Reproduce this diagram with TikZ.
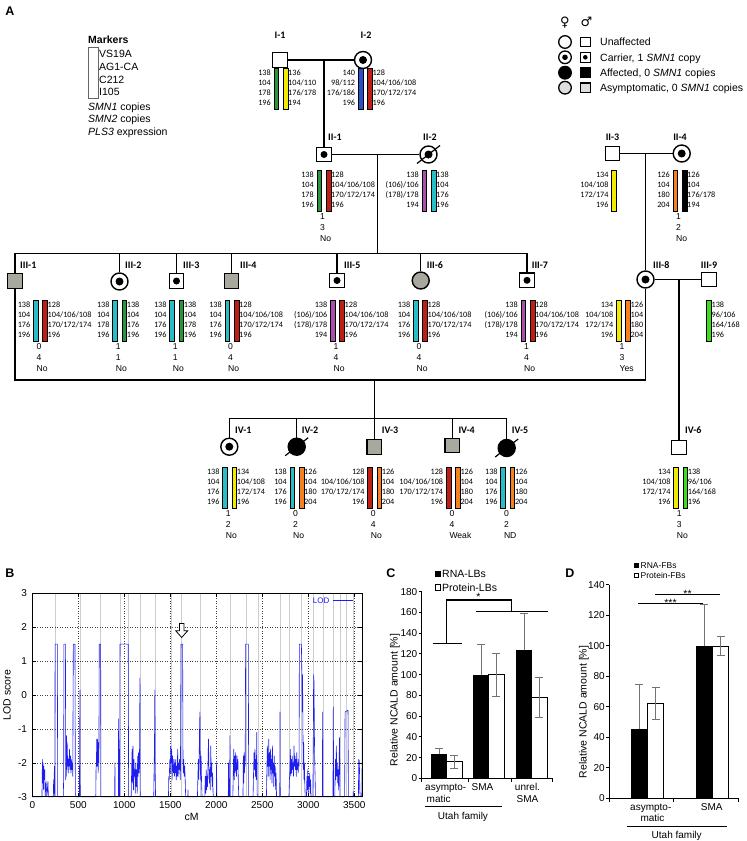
\documentclass[tikz,border=0pt]{standalone}
\usepackage{fontspec}
\setmainfont{Liberation Sans}
\newfontfamily\calfont{Carlito}
\newfontfamily\djv{DejaVu Sans}
\definecolor{hgreen}{RGB}{40,150,60}
\definecolor{hyellow}{RGB}{240,235,0}
\definecolor{hblue}{RGB}{40,80,200}
\definecolor{hred}{RGB}{190,30,20}
\definecolor{hpurple}{RGB}{170,80,170}
\definecolor{hcyan}{RGB}{40,190,200}
\definecolor{horange}{RGB}{245,130,30}
\definecolor{hlime}{RGB}{60,220,30}
\definecolor{pgrey}{RGB}{168,168,158}
\definecolor{lgrey}{RGB}{222,222,222}
\definecolor{lodblue}{RGB}{30,30,240}
\definecolor{chrgrey}{RGB}{205,205,205}
\tikzset{
 ped/.style={line width=1.2pt},
 sym/.style={draw, line width=1.4pt, inner sep=0pt, fill=white},
 msq/.style={sym, rectangle, minimum size=14.5pt},
 fci/.style={sym, circle, minimum size=17pt},
 carsq/.style={path picture={\fill[black] (path picture bounding box.center) circle (3.5pt);}},
 carci/.style={path picture={\fill[black] (path picture bounding box.center) circle (4pt);}},
 hbar/.style={draw, line width=0.8pt},
 num/.style={font=\calfont\fontsize{8.2}{10}\selectfont, inner sep=0pt, text height=5.2pt, text depth=0pt},
 bnum/.style={font=\fontsize{8.6}{10}\selectfont, inner sep=0pt, text height=6.2pt, text depth=0pt, anchor=west},
 gen/.style={font=\calfont\bfseries\fontsize{10}{12}\selectfont, inner sep=0pt, text height=6.4pt, text depth=0pt},
 leg/.style={font=\fontsize{10.5}{12}\selectfont, inner sep=0pt, anchor=west, text height=7.5pt, text depth=0pt},
 lci/.style={draw, circle, line width=1.3pt, minimum size=12.6pt, inner sep=0pt, fill=white},
 lsq/.style={draw, rectangle, line width=1.1pt, minimum size=9.5pt, inner sep=0pt, fill=white},
 lcarci/.style={path picture={\fill[black] (path picture bounding box.center) circle (2.8pt);}},
 lcarsq/.style={path picture={\fill[black] (path picture bounding box.center) circle (2.3pt);}},
 panel/.style={font=\bfseries\fontsize{12.5}{14}\selectfont, inner sep=0pt},
 tick/.style={font=\fontsize{10}{12}\selectfont, inner sep=0pt, text height=7.2pt, text depth=0pt},
 axl/.style={font=\fontsize{10.5}{12}\selectfont, inner sep=0pt},
 errb/.style={black!55, line width=0.6pt},
 sig/.style={line width=1.2pt},
}
\newcommand{\lbarx}[3]{\draw[hbar,fill=#3] ({#1-7},#2) rectangle ({#1-2.3},{#2+41});}
\newcommand{\rbarx}[3]{\draw[hbar,fill=#3] ({#1+2.3},#2) rectangle ({#1+7},{#2+41});}
\newcommand{\lnums}[7]{%
\node[num,anchor=east] (#1-l1) at ({#2-10},{#3+5}) {#4};
\node[num,anchor=east] (#1-l2) at ({#2-10},{#3+15}) {#5};
\node[num,anchor=east] (#1-l3) at ({#2-10},{#3+25}) {#6};
\node[num,anchor=east] (#1-l4) at ({#2-10},{#3+35}) {#7};}
\newcommand{\rnums}[7]{%
\node[num,anchor=west] (#1-r1) at ({#2+7},{#3+5}) {#4};
\node[num,anchor=west] (#1-r2) at ({#2+7},{#3+15}) {#5};
\node[num,anchor=west] (#1-r3) at ({#2+7},{#3+25}) {#6};
\node[num,anchor=west] (#1-r4) at ({#2+7},{#3+35}) {#7};}
\newcommand{\bnums}[6]{%
\node[bnum] (#1-b1) at ({#2-4},{#3+46.5}) {#4};
\node[bnum] (#1-b2) at ({#2-4},{#3+57.3}) {#5};
\node[bnum] (#1-b3) at ({#2-4},{#3+68}) {#6};}
\newcommand{\cy}[1]{778.3-1.037*(#1)}
\newcommand{\dy}[1]{798.3-1.525*(#1)}
\begin{document}
\begin{tikzpicture}[x=1pt,y=-1pt]
\useasboundingbox (0,0) rectangle (747,841);
\fill[white] (0,0) rectangle (747,841);

% ---------------- Panel A ----------------
\node[panel] (pA) at (10,11) {A};

% markers legend
\node[font=\bfseries\fontsize{10.5}{12}\selectfont, inner sep=0pt, anchor=west, text height=7.5pt, text depth=0pt] (mk) at (88,40) {Markers};
\draw[line width=0.5pt, draw=black!60] (88.3,47.7) rectangle (98.3,98.3);
\node[leg] (mk1) at (99,54) {VS19A};
\node[leg] (mk2) at (99,66.7) {AG1-CA};
\node[leg] (mk3) at (99,79.3) {C212};
\node[leg] (mk4) at (99,92) {I105};
\node[leg] (mk5) at (88,106.7) {\textit{SMN1} copies};
\node[leg] (mk6) at (88,119.2) {\textit{SMN2} copies};
\node[leg] (mk7) at (88,131.7) {\textit{PLS3} expression};

% symbol legend
\node[font=\djv\fontsize{13}{14}\selectfont, inner sep=0pt] (fem) at (565,23) {♀};
\node[font=\djv\fontsize{13}{14}\selectfont, inner sep=0pt] (mal) at (586.5,22) {♂};
\node[lci] (lc1) at (565,42) {};
\node[lsq] (ls1) at (585.3,42) {};
\node[leg] (lt1) at (600,42) {Unaffected};
\node[lci,lcarci] (lc2) at (565,57.3) {};
\node[lsq,lcarsq] (ls2) at (585.3,57.3) {};
\node[leg] (lt2) at (600,57.3) {Carrier, 1 \textit{SMN1} copy};
\node[lci,fill=black] (lc3) at (565,72.7) {};
\node[lsq,fill=black] (ls3) at (585.3,72.7) {};
\node[leg] (lt3) at (600,72.7) {Affected, 0 \textit{SMN1} copies};
\node[lci,fill=lgrey] (lc4) at (565,87.7) {};
\node[lsq,fill=lgrey] (ls4) at (585.3,87.7) {};
\node[leg] (lt4) at (600,87.7) {Asymptomatic, 0 \textit{SMN1} copies};

% ---- Generation I
\node[msq] (I1) at (280,60) {};
\node[fci,carci] (I2) at (363,60) {};
\node[gen] (I1t) at (280,35) {I-1};
\node[gen] (I2t) at (366,35) {I-2};
\draw[ped] (I1.east) -- (I2.west);
\coordinate (mI) at (324,60);

% ---- Generation II
\node[msq,carsq] (II1) at (324,154.5) {};
\node[fci,carci] (II2) at (428.5,154.5) {};
\draw[ped] ([shift={(-11.5,9)}]II2.center) -- ([shift={(11.5,-9)}]II2.center);
\node[gen,anchor=west] (II1t) at (328,137.3) {II-1};
\node[gen,anchor=west] (II2t) at (423,137.3) {II-2};
\draw[ped] (mI) -- (II1.north);
\draw[ped] (II1.east) -- (II2.west);
\coordinate (mII) at (377.7,154.5);
\coordinate (sIII) at (377.7,253.3);
\draw[ped] (mII) -- (sIII);

\node[msq] (II3) at (612.5,153.5) {};
\node[fci,carci] (II4) at (681.7,153.5) {};
\node[gen] (II3t) at (612.5,137.3) {II-3};
\node[gen] (II4t) at (680,137.3) {II-4};
\draw[ped] (II3.east) -- (II4.west);
\coordinate (mII2) at (645.5,153.5);

% ---- Generation III
\node[msq,fill=pgrey] (III1) at (15,281) {};
\node[fci,carci] (III2) at (119.5,281.5) {};
\node[msq,carsq] (III3) at (176.5,281) {};
\node[msq,fill=pgrey] (III4) at (231.5,281) {};
\node[msq,carsq] (III5) at (337,280.5) {};
\node[fci,fill=pgrey] (III6) at (420.7,280.5) {};
\node[msq,carsq] (III7) at (527,280.3) {};
\node[fci,carci] (III8) at (645.5,279.5) {};
\node[msq] (III9) at (709,279.5) {};
\node[gen,anchor=west] (III1t) at (20,265) {III-1};
\node[gen,anchor=west] (III2t) at (125,265) {III-2};
\node[gen,anchor=west] (III3t) at (183,265) {III-3};
\node[gen,anchor=west] (III4t) at (240,265) {III-4};
\node[gen,anchor=west] (III5t) at (344,265) {III-5};
\node[gen,anchor=west] (III6t) at (426.7,265) {III-6};
\node[gen,anchor=west] (III7t) at (531.7,265) {III-7};
\node[gen,anchor=west] (III8t) at (653,265) {III-8};
\node[gen] (III9t) at (709,265) {III-9};
\draw[ped] (III1.north |- sIII) -- (III7.north |- sIII);
\foreach \n in {III1,III2,III3,III4,III5,III6,III7} \draw[ped] (\n.north |- sIII) -- (\n.north);
\draw[ped] (mII2) -- (III8.north);
\draw[ped] (III8.east) -- (III9.west);
\coordinate (mIII) at (679,279.5);
\coordinate (b1) at (15,380);
\coordinate (b2) at (645.5,380);
\draw[ped] (III1.south) -- (b1) -- (b2) -- (III8.south);
\coordinate (dIV) at (374.3,380);
\coordinate (sIV) at (374.3,418.3);

% ---- Generation IV
\node[fci,carci] (IV1) at (229.3,446.7) {};
\node[fci,fill=black] (IV2) at (296.7,446.7) {};
\node[msq,fill=pgrey] (IV3) at (374.3,447) {};
\node[msq,fill=pgrey] (IV4) at (452.2,445.5) {};
\node[fci,fill=black] (IV5) at (506.7,448) {};
\node[msq] (IV6) at (679,447.5) {};
\draw[ped] ([shift={(-11.5,9)}]IV2.center) -- ([shift={(11.5,-9)}]IV2.center);
\draw[ped] ([shift={(-11.5,9)}]IV5.center) -- ([shift={(11.5,-9)}]IV5.center);
\node[gen,anchor=west] (IV1t) at (235,430.7) {IV-1};
\node[gen,anchor=west] (IV2t) at (301.7,430.7) {IV-2};
\node[gen,anchor=west] (IV3t) at (381.7,430.7) {IV-3};
\node[gen,anchor=west] (IV4t) at (458.3,430.7) {IV-4};
\node[gen,anchor=west] (IV5t) at (511.7,430.7) {IV-5};
\node[gen,anchor=west] (IV6t) at (685,430.7) {IV-6};
\draw[ped] (dIV) -- (IV3.north);
\draw[ped] (IV1.north |- sIV) -- (IV5.north |- sIV);
\foreach \n in {IV1,IV2,IV4,IV5} \draw[ped] (\n.north |- sIV) -- (\n.north);
\draw[ped] (mIII) -- (IV6.north);

% ---- haplotypes
% I-1
\lbarx{281}{68}{hgreen}\rbarx{281}{68}{hyellow}
\lnums{I1}{281}{68}{138}{104}{178}{196}
\rnums{I1}{281}{68}{136}{104/110}{176/178}{194}
% I-2
\lbarx{365.3}{68}{hblue}\rbarx{365.3}{68}{hred}
\lnums{I2}{365.3}{68}{140}{98/112}{176/186}{196}
\rnums{I2}{365.3}{68}{128}{104/106/108}{170/172/174}{196}
% II-1
\lbarx{324}{170}{hgreen}\rbarx{324}{170}{hred}
\lnums{II1}{324}{170}{138}{104}{178}{196}
\rnums{II1}{324}{170}{128}{104/106/108}{170/172/174}{196}
\bnums{II1}{324}{170}{1}{3}{No}
% II-2
\lbarx{429}{170}{hpurple}\rbarx{429}{170}{hcyan}
\lnums{II2}{429}{170}{138}{(106)/106}{(178)/178}{194}
\rnums{II2}{429}{170}{138}{104}{176}{196}
% II-3
\lbarx{618.7}{170}{hyellow}
\lnums{II3}{618.7}{170}{134}{104/108}{172/174}{196}
% II-4
\lbarx{680}{170}{horange}\rbarx{680}{170}{black}
\lnums{II4}{680}{170}{126}{104}{180}{204}
\rnums{II4}{680}{170}{126}{104}{176/178}{194}
\bnums{II4}{680}{170}{1}{2}{No}
% III-1
\lbarx{40.5}{300}{hcyan}\rbarx{40.5}{300}{hred}
\lnums{III1}{40.5}{300}{138}{104}{176}{196}
\rnums{III1}{40.5}{300}{128}{104/106/108}{170/172/174}{196}
\bnums{III1}{40.5}{300}{0}{4}{No}
% III-2
\lbarx{119.7}{300}{hcyan}\rbarx{119.7}{300}{hgreen}
\lnums{III2}{119.7}{300}{138}{104}{178}{196}
\rnums{III2}{119.7}{300}{138}{104}{176}{196}
\bnums{III2}{119.7}{300}{1}{1}{No}
% III-3
\lbarx{176.7}{300}{hcyan}\rbarx{176.7}{300}{hgreen}
\lnums{III3}{176.7}{300}{138}{104}{176}{196}
\rnums{III3}{176.7}{300}{138}{104}{178}{196}
\bnums{III3}{176.7}{300}{1}{1}{No}
% III-4
\lbarx{232}{300}{hcyan}\rbarx{232}{300}{hred}
\lnums{III4}{232}{300}{138}{104}{176}{196}
\rnums{III4}{232}{300}{128}{104/106/108}{170/172/174}{196}
\bnums{III4}{232}{300}{0}{4}{No}
% III-5
\lbarx{337.5}{300}{hpurple}\rbarx{337.5}{300}{hred}
\lnums{III5}{337.5}{300}{138}{(106)/106}{(178)/178}{194}
\rnums{III5}{337.5}{300}{128}{104/106/108}{170/172/174}{196}
\bnums{III5}{337.5}{300}{1}{4}{No}
% III-6
\lbarx{420.5}{300}{hcyan}\rbarx{420.5}{300}{hred}
\lnums{III6}{420.5}{300}{138}{104}{176}{196}
\rnums{III6}{420.5}{300}{128}{104/106/108}{170/172/174}{196}
\bnums{III6}{420.5}{300}{0}{4}{No}
% III-7
\lbarx{528}{300}{hpurple}\rbarx{528}{300}{hred}
\lnums{III7}{528}{300}{138}{(106)/106}{(178)/178}{194}
\rnums{III7}{528}{300}{128}{104/106/108}{170/172/174}{196}
\bnums{III7}{528}{300}{1}{4}{No}
% III-8
\lbarx{623.5}{300}{hyellow}\rbarx{623.5}{300}{horange}
\lnums{III8}{623.5}{300}{134}{104/108}{172/174}{196}
\rnums{III8}{623.5}{300}{126}{104}{180}{204}
\bnums{III8}{623.5}{300}{1}{3}{Yes}
% III-9
\rbarx{704.4}{300}{hlime}
\rnums{III9}{704.4}{300}{138}{96/106}{164/168}{196}
% IV-1
\lbarx{229.7}{467}{hcyan}\rbarx{229.7}{467}{hyellow}
\lnums{IV1}{229.7}{467}{138}{104}{176}{196}
\rnums{IV1}{229.7}{467}{134}{104/108}{172/174}{196}
\bnums{IV1}{229.7}{467}{1}{2}{No}
% IV-2
\lbarx{297}{467}{hcyan}\rbarx{297}{467}{horange}
\lnums{IV2}{297}{467}{138}{104}{176}{196}
\rnums{IV2}{297}{467}{126}{104}{180}{204}
\bnums{IV2}{297}{467}{0}{2}{No}
% IV-3
\lbarx{374.7}{467}{hred}\rbarx{374.7}{467}{horange}
\lnums{IV3}{374.7}{467}{128}{104/106/108}{170/172/174}{196}
\rnums{IV3}{374.7}{467}{126}{104}{180}{204}
\bnums{IV3}{374.7}{467}{0}{4}{No}
% IV-4
\lbarx{453.3}{467}{hred}\rbarx{453.3}{467}{horange}
\lnums{IV4}{453.3}{467}{128}{104/106/108}{170/172/174}{196}
\rnums{IV4}{453.3}{467}{126}{104}{180}{204}
\bnums{IV4}{453.3}{467}{0}{4}{Weak}
% IV-5
\lbarx{507.8}{467}{hcyan}\rbarx{507.8}{467}{horange}
\lnums{IV5}{507.8}{467}{138}{104}{176}{196}
\rnums{IV5}{507.8}{467}{126}{104}{180}{204}
\bnums{IV5}{507.8}{467}{0}{2}{ND}
% IV-6
\lbarx{680.7}{467}{hyellow}\rbarx{680.7}{467}{hlime}
\lnums{IV6}{680.7}{467}{134}{104/108}{172/174}{196}
\rnums{IV6}{680.7}{467}{138}{96/106}{164/168}{196}
\bnums{IV6}{680.7}{467}{1}{3}{No}

% ---------------- Panel B ----------------
\node[panel] (pB) at (10,573.5) {B};
\begin{scope}[shift={(32.3pt,-695pt)}, x=0.092pt, y=33.9pt]
\foreach \c in {246,518,735,953,1043,1170,1333,1514,1623,1822,2149,2322,2456,2692,2793,2927,3054,3163,3272,3344,3417,3489}
  \draw[chrgrey, line width=0.5pt] (\c,-3) -- (\c,3);
\foreach \c in {500,1000,...,3500}
  \draw[black!75, line width=0.5pt, dash pattern=on 1pt off 1.5pt] (\c,-3) -- (\c,3);
\foreach \l in {-2,...,2}
  \draw[black!75, line width=0.5pt, dash pattern=on 1pt off 1.5pt] (0,\l) -- (3587,\l);
\draw[lodblue, line width=0.6pt, line join=round] plot coordinates {
(0,-2.4)(2,-3)
(105,-3)(110,-1.9)(113,-2.6)(117,-2.0)(121,-2.8)(125,-2.1)(130,-2.5)(135,-2.2)(140,-3)(150,-2.55)(158,-3)(170,-2.55)(175,-3)
(228,-3)(232,-2.5)(236,-2.9)(240,-2.1)(244,-3)(248,1.5)(272,1.5)(276,-3)
(337,-3)(341,-2.4)(344,1.5)(360,1.5)(363,-2.5)(366,-1.7)(369,-2.4)(372,-1.2)(375,-2.2)(379,-1.4)(383,-2.1)(387,-1.8)(391,-2.3)(395,-1.9)(400,-2.1)(405,-1.6)(410,-2.2)(415,-1.8)(420,-2.3)(425,-1.9)(430,-2.2)(435,-2.0)(440,-2.4)(446,1.5)(464,1.5)(468,-2.9)(475,-3)
(512,-3)(515,-1.3)(518,0.15)(521,-3)
(690,-3)(693,-2.2)(697,-2.0)(700,-1.3)(704,-2.1)(708,-1.3)(712,-1.7)(716,-2.3)(720,-1.4)(724,-2.0)(728,1.5)(743,1.5)(746,-3)
(895,-3)(898,-2.0)(901,-3)
(935,-3)(938,-0.7)(941,-3)
(950,-3)(953,1.5)(1043,1.5)(1047,-3)
(1075,-3)(1080,-2.2)(1085,-1.6)(1090,-2.6)(1095,-1.5)(1100,-2.8)(1105,-1.9)(1110,-2.4)(1115,-2.2)(1120,-2.9)(1125,-2.0)(1130,-2.7)(1135,-2.2)(1140,-2.9)(1145,-1.8)(1150,-2.4)(1155,-1.7)(1160,-2.3)(1165,-2.0)(1170,0.5)(1173,-3)
(1320,-3)(1324,-2.2)(1328,-1.5)(1332,0.15)(1336,-2.4)(1340,-3)
(1480,-3)(1484,-2.4)(1488,-2.5)(1495,-1.9)(1500,-2.3)(1505,-1.5)(1510,-2.0)(1515,-1.6)(1520,-2.5)(1525,-1.8)(1530,-2.2)(1535,-2.3)(1540,-1.9)(1545,-2.4)(1550,-2.0)(1555,-2.3)(1560,-1.9)(1565,-2.5)(1570,-2.1)(1575,-2.4)(1580,-1.6)(1585,-2.4)(1590,-2.0)(1595,-2.2)(1600,-1.9)(1605,-2.3)(1610,-2.5)(1616,1.5)(1634,1.5)(1638,-2.0)(1642,-2.3)(1647,-1.9)(1652,-2.4)(1657,-2.1)(1662,-2.5)(1667,-3)
(1690,-3)(1692,-2.8)(1694,-3)
(1795,-3)(1800,-2.4)(1805,-1.9)(1810,-2.5)(1815,-1.6)(1818,-1.0)(1822,-0.5)(1826,-2.0)(1830,-2.5)(1835,-1.8)(1840,-2.6)(1845,-3)
(1875,-3)(1880,-2.4)(1885,-2.9)(1890,-2.2)(1895,-2.8)(1900,-2.4)(1905,-2.7)(1910,-2.0)(1915,-1.3)(1920,-2.1)(1925,-2.6)(1930,-2.2)(1935,-2.8)(1940,-1.5)(1945,-2.4)(1950,-2.0)(1955,-2.7)(1960,-2.3)(1965,-2.9)(1970,-3)
(2000,-3)(2003,-2.0)(2006,-3)
(2130,-3)(2133,-2.0)(2137,-3)(2145,-3)(2148,-1.2)(2151,-3)
(2180,-3)(2185,-2.2)(2190,-1.6)(2195,-2.5)(2200,-1.8)(2205,-2.3)(2210,-1.7)(2215,-2.1)(2220,-2.4)(2225,-1.8)(2230,-2.2)(2235,-1.9)(2240,-2.6)(2244,-3)
(2290,-3)(2294,-1.8)(2298,-2.6)(2302,-1.7)(2306,-2.3)(2310,-1.8)(2314,-2.1)(2319,1.5)(2348,1.5)(2352,-3)
(2400,-3)(2405,-2.3)(2410,-1.7)(2415,-2.2)(2420,-1.6)(2425,-2.4)(2430,-1.9)(2435,-2.5)(2440,-1.1)(2444,-2.9)(2448,-3)
(2545,-3)(2550,-2.2)(2555,-1.5)(2560,-1.8)(2565,-2.4)(2570,-1.3)(2575,-2.1)(2580,-1.7)(2585,-2.5)(2590,-1.6)(2595,-2.2)(2600,-1.9)(2605,-2.6)(2610,-1.5)(2615,-2.3)(2620,-2.0)(2625,-2.7)(2630,-1.8)(2635,-2.4)(2640,-2.1)(2645,-2.8)(2650,-2.3)(2655,-3)
(2690,-3)(2692,-0.5)(2695,-3)
(2790,-3)(2795,-2.5)(2800,-2.2)(2805,-1.6)(2810,-2.4)(2815,-1.9)(2820,-2.3)(2825,-1.8)(2830,-2.2)(2835,-2.0)(2840,-2.4)(2845,-1.5)(2850,-2.1)(2855,-1.8)(2860,-2.2)(2865,-1.9)(2870,-2.4)(2875,-1.7)(2880,-2.2)(2885,-2.0)(2890,-2.3)(2895,-1.9)(2900,-2.1)(2903,1.5)(2925,1.5)(2930,0.65)(2934,-0.5)(2938,0.6)(2942,-1.2)(2946,-2.2)(2950,-1.4)(2954,-2.5)(2958,-2.0)(2962,-2.6)(2966,-3)
(2980,-3)(2985,-2.4)(2990,-2.8)(2995,-2.2)(3000,-2.9)(3005,-2.4)(3010,-2.7)(3015,-2.3)(3020,-2.9)(3025,-2.5)(3030,-3)
(3050,-3)(3054,-1.5)(3058,0.6)(3062,0.4)(3066,-1.0)(3070,-2.0)(3074,-2.4)(3078,-3)
(3153,-3)(3156,-0.5)(3159,-3)
(3268,-3)(3272,-0.35)(3276,-3)
(3288,-3)(3292,-2.3)(3296,-1.9)(3300,-2.5)(3305,-1.5)(3310,-2.4)(3315,-2.0)(3320,-2.6)(3325,-2.2)(3330,-2.8)(3335,-2.0)(3340,-1.25)(3344,-3)
(3395,-3)(3400,-0.5)(3432,-0.45)(3436,-3)
(3486,-3)(3489,-2.85)(3492,-3)
(3545,-3)(3548,-1.9)(3555,-1.95)(3560,-2.8)(3565,-3)(3580,-3)(3583,-2.8)(3587,-1.0)};
\draw[line width=0.6pt] (0,-3) rectangle (3587,3);
\foreach \c in {0,500,...,3500} {
  \draw[line width=0.6pt] (\c,-3) -- (\c,-2.88);
  \draw[line width=0.6pt] (\c,3) -- (\c,2.88);
  \node[tick,anchor=north] (bx\c) at (\c,-3.14) {\c};}
\foreach \l in {-3,...,3} {
  \draw[line width=0.6pt] (0,\l) -- (45,\l);
  \draw[line width=0.6pt] (3587,\l) -- (3542,\l);
  \node[tick,anchor=east] (by\l) at (-55,\l) {\l};}
\end{scope}
\node[axl,rotate=90] (blab) at (7,695) {LOD score};
\node[axl] (bcm) at (191.7,816.7) {cM};
\node[font=\fontsize{8}{10}\selectfont, text=lodblue, inner sep=0pt, anchor=east] (blod) at (329.5,600.7) {LOD};
\coordinate (bl1) at (333,600.7);
\coordinate (bl2) at (353,600.7);
\draw[lodblue, line width=0.6pt] (bl1) -- (bl2);
\draw[line width=0.8pt, fill=white] (179.4,623.5) -- (184,623.5) -- (184,630.7) -- (187.7,630.7) -- (181.7,637.5) -- (175.7,630.7) -- (179.4,630.7) -- cycle;

% ---------------- Panel C ----------------
\node[panel] (pC) at (391,573.5) {C};
\fill (435,571) rectangle (441,577);
\draw[line width=0.6pt] (435.3,584.6) rectangle (440.7,590);
\node[axl,anchor=west] (cl1) at (442,574) {RNA-LBs};
\node[axl,anchor=west] (cl2) at (442,587.3) {Protein-LBs};
% bars
\fill (431.3,{\cy{0}}) rectangle (446.6,{\cy{23.5}});
\draw[line width=0.6pt, fill=white] (446.6,{\cy{0}}) rectangle (461.9,{\cy{16}});
\fill (473.2,{\cy{0}}) rectangle (488.5,{\cy{100}});
\draw[line width=0.6pt, fill=white] (488.5,{\cy{0}}) rectangle (503.8,{\cy{100}});
\fill (516.2,{\cy{0}}) rectangle (531.5,{\cy{124}});
\draw[line width=0.6pt, fill=white] (531.5,{\cy{0}}) rectangle (546.8,{\cy{78}});
% error bars
\draw[errb] (439,{\cy{23.5}}) -- (439,{\cy{29}}) (435,{\cy{29}}) -- (443,{\cy{29}});
\draw[errb] (454.3,{\cy{10}}) -- (454.3,{\cy{22}}) (450.3,{\cy{10}}) -- (458.3,{\cy{10}}) (450.3,{\cy{22}}) -- (458.3,{\cy{22}});
\draw[errb] (480.9,{\cy{100}}) -- (480.9,{\cy{129.5}}) (476.9,{\cy{129.5}}) -- (484.9,{\cy{129.5}});
\draw[errb] (496.2,{\cy{79.5}}) -- (496.2,{\cy{120.5}}) (492.2,{\cy{79.5}}) -- (500.2,{\cy{79.5}}) (492.2,{\cy{120.5}}) -- (500.2,{\cy{120.5}});
\draw[errb] (523.9,{\cy{124}}) -- (523.9,{\cy{159}}) (519.9,{\cy{159}}) -- (527.9,{\cy{159}});
\draw[errb] (539.2,{\cy{58.5}}) -- (539.2,{\cy{97.5}}) (535.2,{\cy{58.5}}) -- (543.2,{\cy{58.5}}) (535.2,{\cy{97.5}}) -- (543.2,{\cy{97.5}});
% axes
\draw[line width=0.8pt] (421.7,591.7) -- (421.7,778.3) -- (552.7,778.3);
\foreach \v in {0,20,...,180} {
  \draw[line width=0.8pt] (418.5,{\cy{\v}}) -- (421.7,{\cy{\v}});
  \node[tick,anchor=east] (cy\v) at (417.5,{\cy{\v}}) {\v};}
\foreach \xx in {421.7,468.3,511.7,552.7} \draw[line width=0.8pt] (\xx,778.3) -- (\xx,782);
% significance
\draw[sig] (433,643.3) -- (461.7,643.3);
\draw[sig] (446.7,643.3) -- (446.7,600) -- (511.7,600) -- (511.7,611.7);
\draw[sig] (476,611.7) -- (548.3,611.7);
\node[axl] (cst) at (478.5,597) {*};
% labels
\node[tick,anchor=west] (ca1) at (425,786.7) {asympto-};
\node[tick,anchor=west] (ca2) at (426.5,798.5) {matic};
\node[tick] (ca3) at (482.5,786.7) {SMA};
\node[tick] (ca4) at (527.5,786.7) {unrel.};
\node[tick] (ca5) at (527.5,798.5) {SMA};
\draw[line width=0.8pt] (425,806.7) -- (501.7,806.7);
\node[tick] (ca6) at (463,815.5) {Utah family};
\node[axl,rotate=90] (clab) at (395,700) {Relative NCALD amount [\%]};

% ---------------- Panel D ----------------
\node[panel] (pD) at (570,573.5) {D};
\fill (634,563.3) rectangle (639,568.3);
\draw[line width=0.6pt] (634.3,572.8) rectangle (638.7,577.2);
\node[font=\fontsize{8.5}{10}\selectfont, inner sep=0pt, anchor=west] (dl1) at (640.5,566) {RNA-FBs};
\node[font=\fontsize{8.5}{10}\selectfont, inner sep=0pt, anchor=west] (dl2) at (640.5,575.3) {Protein-FBs};
\fill (631,{\dy{0}}) rectangle (647.3,{\dy{45.5}});
\draw[line width=0.6pt, fill=white] (647.3,{\dy{0}}) rectangle (663.6,{\dy{62}});
\fill (696,{\dy{0}}) rectangle (712.3,{\dy{100}});
\draw[line width=0.6pt, fill=white] (712.3,{\dy{0}}) rectangle (728.6,{\dy{100}});
\draw[errb] (639.2,{\dy{45.5}}) -- (639.2,{\dy{75}}) (635.2,{\dy{75}}) -- (643.2,{\dy{75}});
\draw[errb] (655.5,{\dy{51.5}}) -- (655.5,{\dy{72.5}}) (651.5,{\dy{51.5}}) -- (659.5,{\dy{51.5}}) (651.5,{\dy{72.5}}) -- (659.5,{\dy{72.5}});
\draw[errb] (704.2,{\dy{100}}) -- (704.2,{\dy{127.5}}) (700.2,{\dy{127.5}}) -- (708.2,{\dy{127.5}});
\draw[errb] (720.5,{\dy{94}}) -- (720.5,{\dy{106}}) (716.5,{\dy{94}}) -- (724.5,{\dy{94}}) (716.5,{\dy{106}}) -- (724.5,{\dy{106}});
\draw[line width=0.8pt] (609.3,{\dy{140}}) -- (609.3,{\dy{0}}) -- (738.3,{\dy{0}});
\foreach \v in {0,20,...,140} {
  \draw[line width=0.8pt] (606.1,{\dy{\v}}) -- (609.3,{\dy{\v}});
  \node[tick,anchor=east] (dy\v) at (605,{\dy{\v}}) {\v};}
\foreach \xx in {609.3,673.8,738.3} \draw[line width=0.8pt] (\xx,798.3) -- (\xx,802);
\draw[sig] (638.3,603.3) -- (703.3,603.3);
\node[axl] (dst1) at (670.5,602.5) {***};
\draw[sig] (655,594.3) -- (720,594.3);
\node[axl] (dst2) at (687.5,593.5) {**};
\node[tick] (da1) at (650.8,806.7) {asympto-};
\node[tick] (da2) at (652.5,818.3) {matic};
\node[tick] (da3) at (711.7,806.7) {SMA};
\draw[line width=0.8pt] (626.7,826.7) -- (726.7,826.7);
\node[tick] (da4) at (676.7,835) {Utah family};
\node[axl,rotate=90] (dlab) at (584,712) {Relative NCALD amount [\%]};
\end{tikzpicture}
\end{document}
